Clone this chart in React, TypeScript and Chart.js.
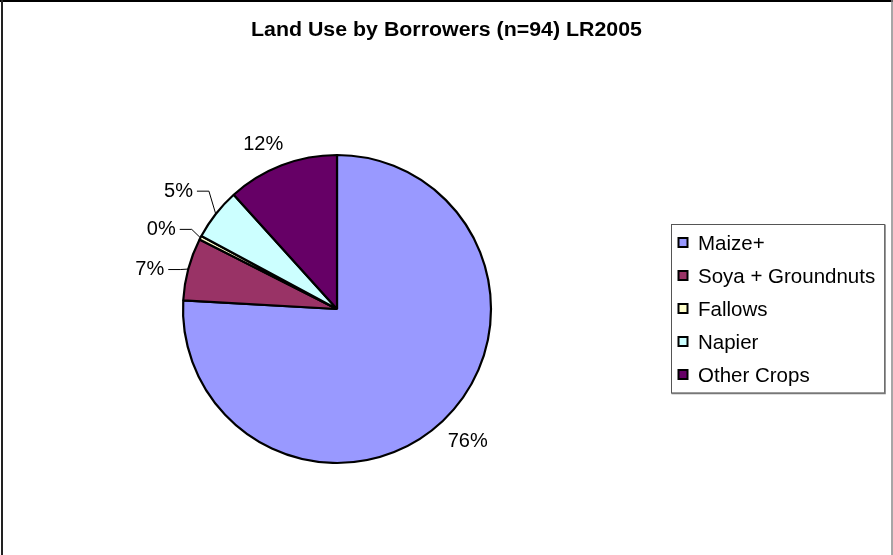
import React, { useEffect, useRef } from "react";
import { Chart, registerables } from "chart.js";

Chart.register(...registerables);

const TITLE = "Land Use by Borrowers (n=94) LR2005";
const categories = ["Maize+", "Soya + Groundnuts", "Fallows", "Napier", "Other Crops"];
const shares = [75.9, 6.55, 0.4, 5.45, 11.7];
const colors = ["#9999FF", "#993366", "#FFFFCC", "#CCFFFF", "#660066"];

// small manual nudges of the percentage labels (layout only)
const LABEL_NUDGE: [number, number][] = [
  [5, -1],
  [4, 8],
  [1, 5],
  [0, -5],
  [-8, 6],
];

const FONT = '"Liberation Sans", Arial, sans-serif';

const overlay = {
  id: "overlay",
  afterDraw(chart: any) {
    const ctx = chart.ctx as CanvasRenderingContext2D;
    ctx.save();

    // outer frame
    ctx.lineWidth = 2;
    ctx.strokeStyle = "#000";
    ctx.beginPath();
    ctx.moveTo(0, 1);
    ctx.lineTo(893, 1);
    ctx.stroke();
    ctx.strokeStyle = "#222";
    ctx.beginPath();
    ctx.moveTo(2, 0);
    ctx.lineTo(2, 555);
    ctx.stroke();
    ctx.strokeStyle = "#888";
    ctx.lineWidth = 1.5;
    ctx.beginPath();
    ctx.moveTo(892, 0);
    ctx.lineTo(892, 555);
    ctx.stroke();

    // title
    ctx.fillStyle = "#000";
    ctx.font = `bold 20px ${FONT}`;
    ctx.textBaseline = "alphabetic";
    ctx.textAlign = "left";
    const tw = ctx.measureText(TITLE).width;
    const target = 391;
    ctx.save();
    ctx.translate(446.5 - target / 2, 36);
    ctx.scale(target / tw, 1);
    ctx.fillText(TITLE, 0, 0);
    ctx.restore();

    // percentage labels
    const meta = chart.getDatasetMeta(0);
    const total = shares.reduce((a, b) => a + b, 0);
    ctx.font = `20px ${FONT}`;
    ctx.textBaseline = "middle";
    ctx.lineWidth = 1;
    ctx.strokeStyle = "#000";
    ctx.fillStyle = "#000";
    meta.data.forEach((arc: any, i: number) => {
      const { x, y, startAngle, endAngle, outerRadius } = arc.getProps(
        ["x", "y", "startAngle", "endAngle", "outerRadius"],
        true
      );
      const mid = (startAngle + endAngle) / 2;
      const dx = Math.cos(mid);
      const dy = Math.sin(mid);
      const pct = (shares[i] / total) * 100;
      const txt = `${Math.round(pct)}%`;
      const R = outerRadius + 29;
      const [nx, ny] = LABEL_NUDGE[i] || [0, 0];
      const ax = x + dx * R + nx;
      const ay = y + dy * R + ny;
      if (pct < 8) {
        const left = dx < 0;
        ctx.textAlign = left ? "right" : "left";
        ctx.fillText(txt, ax, ay);
        const sx = left ? ax + 4 : ax - 4;
        const ex = left ? sx + 12 : sx - 12;
        ctx.beginPath();
        ctx.moveTo(sx, ay);
        ctx.lineTo(ex, ay);
        ctx.lineTo(x + dx * outerRadius, y + dy * outerRadius);
        ctx.stroke();
      } else {
        ctx.textAlign = "center";
        ctx.fillText(txt, ax, ay);
      }
    });

    // legend
    const lx = 671.5, ly = 224.5, lw = 213, lh = 168.5;
    ctx.fillStyle = "#fff";
    ctx.fillRect(lx, ly, lw, lh);
    ctx.strokeStyle = "#555";
    ctx.lineWidth = 1;
    ctx.strokeRect(lx, ly, lw, lh);
    ctx.strokeStyle = "#777";
    ctx.lineWidth = 1.5;
    ctx.beginPath();
    ctx.moveTo(lx + lw + 0.5, ly);
    ctx.lineTo(lx + lw + 0.5, ly + lh + 0.5);
    ctx.lineTo(lx, ly + lh + 0.5);
    ctx.stroke();

    ctx.font = `20.5px ${FONT}`;
    ctx.textAlign = "left";
    ctx.textBaseline = "middle";
    categories.forEach((c, i) => {
      const cy = 243 + i * 33;
      ctx.fillStyle = colors[i];
      ctx.fillRect(678.5, cy - 5, 9, 9);
      ctx.strokeStyle = "#000";
      ctx.lineWidth = 2;
      ctx.strokeRect(678.5, cy - 5, 9, 9);
      ctx.fillStyle = "#000";
      ctx.fillText(c, 698, cy + 1);
    });

    ctx.restore();
  },
};

export default function App() {
  const ref = useRef<HTMLCanvasElement>(null);
  useEffect(() => {
    document.body.style.margin = "0";
    const chart = new Chart(ref.current as HTMLCanvasElement, {
      type: "pie",
      data: {
        labels: categories,
        datasets: [
          {
            data: shares,
            backgroundColor: colors,
            borderColor: "#000",
            borderWidth: 2.2,
          },
        ],
      },
      options: {
        responsive: false,
        animation: false,
        radius: 154,
        layout: { padding: { left: 100, right: 319, top: 100, bottom: 37 } },
        plugins: {
          legend: { display: false },
          title: { display: false },
          tooltip: { enabled: false },
        },
      } as any,
      plugins: [overlay],
    });
    return () => chart.destroy();
  }, []);
  return (
    <div style={{ width: 893, height: 555, background: "#fff" }}>
      <canvas ref={ref} width={893} height={555} />
    </div>
  );
}
